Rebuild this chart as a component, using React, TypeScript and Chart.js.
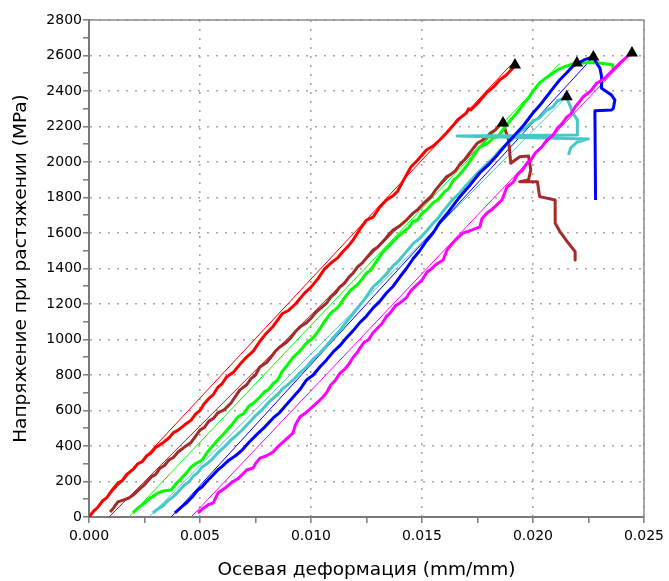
import React, { useEffect, useRef } from "react";
import { Chart, registerables } from "chart.js";

Chart.register(...registerables);

type P = [number, number];

// Axis definitions
const X_MIN = 0;
const X_MAX = 0.025;
const X_STEP = 0.0025;
const X_LABELS = ["0.000", "0.005", "0.010", "0.015", "0.020", "0.025"];
const Y_MIN = 0;
const Y_MAX = 2800;
const Y_STEP = 100;
const Y_LABELS = ["0", "200", "400", "600", "800", "1000", "1200", "1400", "1600", "1800", "2000", "2200", "2400", "2600", "2800"];

const X_TITLE = "Осевая деформация (mm/mm)";
const Y_TITLE = "Напряжение при растяжении (MPa)";

// Specimen curves: [strain, stress]
const RED: P[] = [
  [0, 0], [0.0002, 32], [0.0004, 55], [0.0006, 90], [0.0008, 108], [0.001, 145], [0.0013, 191],
  [0.0015, 205], [0.0017, 240], [0.002, 270], [0.0022, 300], [0.0024, 312], [0.0026, 345], [0.0028, 361],
  [0.003, 392], [0.0033, 415], [0.0036, 445], [0.0038, 475], [0.004, 488], [0.0043, 518], [0.0046, 546],
  [0.0048, 580], [0.005, 600], [0.0052, 640], [0.0054, 668], [0.0056, 690], [0.0058, 730], [0.006, 752],
  [0.0062, 789], [0.0065, 815], [0.0068, 860], [0.0071, 901], [0.0074, 935], [0.0077, 990], [0.008, 1037],
  [0.0083, 1075], [0.0087, 1145], [0.009, 1165], [0.0093, 1200], [0.0097, 1260], [0.01, 1295],
  [0.0103, 1340], [0.0106, 1395], [0.0109, 1431], [0.0112, 1460], [0.0114, 1490], [0.0117, 1530],
  [0.0119, 1561], [0.0122, 1620], [0.0125, 1673], [0.0128, 1690], [0.0131, 1745], [0.0134, 1786],
  [0.0137, 1810], [0.0139, 1835], [0.0142, 1905], [0.0145, 1972], [0.0148, 2010], [0.0152, 2068],
  [0.0155, 2090], [0.0158, 2124], [0.0161, 2163], [0.0164, 2205], [0.0166, 2237], [0.017, 2276],
  [0.0171, 2300], [0.0172, 2293], [0.0175, 2330], [0.0179, 2389], [0.0182, 2420], [0.0185, 2462],
  [0.0188, 2490], [0.0191, 2530], [0.0192, 2545],
];

const BROWN: P[] = [
  [0.00095, 28], [0.0011, 50], [0.0013, 85], [0.0016, 98], [0.0018, 107], [0.002, 125], [0.0023, 160],
  [0.0025, 182], [0.0028, 225], [0.003, 240], [0.0032, 275], [0.0034, 290], [0.0036, 321], [0.0038, 335],
  [0.004, 365], [0.0043, 394], [0.0046, 420], [0.005, 490], [0.0052, 505], [0.0054, 540], [0.0056, 555],
  [0.0058, 586], [0.0061, 605], [0.0064, 642], [0.0066, 680], [0.0068, 716], [0.0071, 745], [0.0073, 780],
  [0.0075, 800], [0.0077, 845], [0.008, 870], [0.0082, 900], [0.0084, 935], [0.0086, 958], [0.0089, 985],
  [0.0091, 1010], [0.0093, 1045], [0.0095, 1070], [0.0098, 1095], [0.01, 1120], [0.0102, 1150],
  [0.0104, 1172], [0.0107, 1205], [0.0109, 1240], [0.0111, 1262], [0.0113, 1296], [0.0115, 1315],
  [0.0117, 1350], [0.0119, 1375], [0.0121, 1409], [0.0123, 1430], [0.0125, 1460], [0.0128, 1504],
  [0.013, 1520], [0.0133, 1560], [0.0135, 1590], [0.0137, 1617], [0.014, 1640], [0.0143, 1673],
  [0.0146, 1712], [0.0148, 1730], [0.0151, 1770], [0.0154, 1803], [0.0156, 1840], [0.0158, 1870],
  [0.0161, 1916], [0.0163, 1930], [0.0165, 1950], [0.0167, 1985], [0.0169, 2011], [0.0172, 2060],
  [0.0175, 2107], [0.0177, 2120], [0.0179, 2141], [0.0181, 2165], [0.0183, 2180], [0.0185, 2209],
  [0.01865, 2220], [0.0189, 2124], [0.019, 1993], [0.0194, 2030], [0.0198, 2034], [0.0199, 1955],
  [0.0198, 1899], [0.0194, 1889], [0.0202, 1889], [0.0203, 1805], [0.021, 1786], [0.021, 1655],
  [0.0212, 1611], [0.0216, 1542], [0.0219, 1495], [0.0219, 1448],
];

const GREEN: P[] = [
  [0.00198, 23], [0.0022, 50], [0.0025, 79], [0.0028, 110], [0.0031, 135], [0.0034, 148], [0.0037, 152],
  [0.0039, 185], [0.0041, 210], [0.0044, 250], [0.0046, 282], [0.0048, 300], [0.0051, 321], [0.0053, 360],
  [0.0055, 390], [0.0058, 434], [0.0061, 473], [0.0064, 515], [0.0067, 563], [0.007, 586], [0.0072, 625],
  [0.0074, 640], [0.0077, 676], [0.0079, 705], [0.0081, 720], [0.0083, 752], [0.0085, 772], [0.0087, 820],
  [0.0089, 850], [0.0092, 901], [0.0095, 935], [0.0098, 980], [0.0101, 1010], [0.0104, 1060],
  [0.0106, 1100], [0.0109, 1150], [0.0112, 1180], [0.0114, 1215], [0.0116, 1250], [0.0118, 1279],
  [0.0121, 1310], [0.0123, 1340], [0.0125, 1375], [0.0127, 1392], [0.013, 1450], [0.0132, 1487],
  [0.0135, 1525], [0.0139, 1578], [0.0141, 1600], [0.0144, 1630], [0.0146, 1665], [0.0148, 1673],
  [0.015, 1712], [0.0152, 1730], [0.0155, 1770], [0.0157, 1786], [0.016, 1830], [0.0162, 1850],
  [0.0164, 1895], [0.0166, 1916], [0.0169, 1960], [0.0172, 2011], [0.0174, 2050], [0.0176, 2084],
  [0.0178, 2095], [0.018, 2110], [0.0182, 2135], [0.0184, 2141], [0.0187, 2190], [0.019, 2237],
  [0.0193, 2280], [0.0196, 2332], [0.0198, 2360], [0.02, 2400], [0.0203, 2445], [0.0206, 2475],
  [0.0209, 2501], [0.0212, 2525], [0.0215, 2540], [0.0218, 2552], [0.0222, 2558], [0.0228, 2560],
  [0.0236, 2548], [0.0236, 2530],
];

const CYAN: P[] = [
  [0.00288, 23], [0.0031, 45], [0.0033, 60], [0.0036, 96], [0.0038, 115], [0.004, 140], [0.0043, 180],
  [0.0045, 198], [0.0047, 230], [0.0049, 250], [0.0051, 282], [0.0053, 298], [0.0055, 320], [0.0058, 361],
  [0.0061, 395], [0.0064, 434], [0.0066, 455], [0.0069, 490], [0.0072, 530], [0.0075, 570], [0.0078, 605],
  [0.0082, 659], [0.0085, 690], [0.0087, 720], [0.009, 750], [0.0092, 772], [0.0095, 812], [0.0098, 845],
  [0.0101, 890], [0.0104, 924], [0.0107, 965], [0.011, 1010], [0.0113, 1050], [0.0116, 1100],
  [0.0118, 1130], [0.0121, 1178], [0.0124, 1225], [0.0128, 1296], [0.0131, 1330], [0.0134, 1370],
  [0.0137, 1415], [0.0139, 1437], [0.0143, 1495], [0.0146, 1540], [0.0149, 1570], [0.0152, 1610],
  [0.0155, 1655], [0.0157, 1680], [0.016, 1730], [0.0164, 1790], [0.0167, 1825], [0.017, 1870],
  [0.0173, 1910], [0.0175, 1938], [0.0179, 1985], [0.0182, 2020], [0.0185, 2065], [0.0188, 2100],
  [0.0191, 2130], [0.0194, 2170], [0.0197, 2195], [0.02, 2230], [0.0203, 2250], [0.0206, 2290],
  [0.0209, 2310], [0.0211, 2345], [0.0212, 2349], [0.0215, 2368], [0.0218, 2276], [0.022, 2237],
  [0.022, 2152], [0.01658, 2147], [0.0195, 2138], [0.0225, 2130], [0.022, 2113], [0.0217, 2079],
  [0.0216, 2040],
];

const BLUE: P[] = [
  [0.00387, 23], [0.0042, 60], [0.0044, 80], [0.0047, 120], [0.0049, 152], [0.0051, 170], [0.0053, 200],
  [0.0056, 238], [0.0058, 265], [0.006, 285], [0.0063, 320], [0.0066, 345], [0.0069, 377], [0.0072, 420],
  [0.0076, 470], [0.0079, 505], [0.0083, 558], [0.0086, 590], [0.0088, 620], [0.009, 648], [0.0092, 676],
  [0.0095, 718], [0.0098, 772], [0.0101, 800], [0.0104, 845], [0.0107, 885], [0.011, 930], [0.0113, 965],
  [0.0116, 1010], [0.0119, 1050], [0.0122, 1095], [0.0125, 1132], [0.0128, 1178], [0.0131, 1215],
  [0.0134, 1262], [0.0137, 1300], [0.014, 1352], [0.0143, 1400], [0.0146, 1455], [0.0149, 1500],
  [0.0152, 1555], [0.0155, 1600], [0.0158, 1660], [0.0162, 1720], [0.0167, 1803], [0.0171, 1860],
  [0.0176, 1938], [0.018, 1985], [0.0184, 2040], [0.0188, 2100], [0.0191, 2141], [0.0196, 2210],
  [0.02, 2276], [0.0203, 2318], [0.0206, 2366], [0.0209, 2415], [0.0212, 2462], [0.0215, 2500],
  [0.0218, 2540], [0.0223, 2575], [0.02272, 2593], [0.02287, 2556], [0.02302, 2528], [0.02309, 2481],
  [0.02309, 2415], [0.02332, 2396], [0.02354, 2377], [0.02369, 2349], [0.02362, 2302], [0.02354, 2293],
  [0.02279, 2289], [0.02282, 1786],
];

const MAGENTA: P[] = [
  [0.00491, 23], [0.0051, 45], [0.00536, 68], [0.0056, 80], [0.00581, 135], [0.0061, 160], [0.00644, 197],
  [0.0067, 215], [0.00689, 237], [0.0071, 265], [0.00739, 276], [0.0075, 300], [0.0077, 332], [0.008, 345],
  [0.00829, 366], [0.0085, 395], [0.0086, 406], [0.0089, 440], [0.00919, 473], [0.0093, 520], [0.0095, 563],
  [0.0098, 590], [0.0101, 625], [0.0104, 659], [0.01054, 676], [0.0107, 700], [0.0109, 745], [0.0111, 770],
  [0.01131, 811], [0.0115, 830], [0.0117, 860], [0.0119, 900], [0.01207, 924], [0.0122, 950],
  [0.0124, 985], [0.0126, 1000], [0.01279, 1037], [0.013, 1065], [0.0132, 1090], [0.0134, 1130],
  [0.01356, 1149], [0.0138, 1190], [0.014, 1205], [0.01432, 1239], [0.0145, 1275], [0.0147, 1300],
  [0.015, 1335], [0.01523, 1380], [0.0154, 1395], [0.0156, 1420], [0.01595, 1448], [0.01613, 1504],
  [0.0163, 1530], [0.0165, 1560], [0.01685, 1600], [0.0172, 1615], [0.01761, 1634], [0.0177, 1680],
  [0.01793, 1713], [0.0181, 1728], [0.0183, 1750], [0.0186, 1786], [0.01883, 1859], [0.0191, 1885],
  [0.0193, 1930], [0.0195, 1950], [0.01973, 1994], [0.0199, 2010], [0.0201, 2050], [0.0204, 2085],
  [0.02063, 2124], [0.0209, 2150], [0.0211, 2190], [0.0213, 2215], [0.02153, 2254], [0.0217, 2270],
  [0.0219, 2310], [0.0221, 2340], [0.02225, 2366], [0.0226, 2400], [0.02288, 2445], [0.0231, 2460],
  [0.0233, 2480], [0.0236, 2518], [0.0239, 2555], [0.02423, 2592], [0.0244, 2610],
];

// Thin modulus lines
const RED_FIT: P[] = [[0, 0], [0.019, 2547]];
const BROWN_FIT: P[] = [[0.0009, 0], [0.0186, 2215]];
const GREEN_FIT: P[] = [[0.0018, 0], [0.0212, 2555]];
const CYAN_FIT: P[] = [[0.0027, 0], [0.0215, 2365]];
const BLUE_FIT: P[] = [[0.0037, 0], [0.0227, 2590]];
const MAGENTA_FIT: P[] = [[0.0046, 0], [0.0244, 2610]];

// Peak markers
const PEAKS: P[] = [
  [0.01919, 2547], [0.01865, 2220], [0.02198, 2558], [0.02152, 2368], [0.02272, 2592], [0.02446, 2614],
];

const COLORS = {
  red: "#ff0000",
  brown: "#a52a2a",
  green: "#00ff00",
  cyan: "#45c8c8",
  blue: "#0000ff",
  magenta: "#ff00ff",
};

const toXY = (arr: P[]) => arr.map(([x, y]) => ({ x, y }));

const FONT = "'DejaVu Sans', Verdana, sans-serif";

const framePlugin = {
  id: "frame",
  afterDraw(chart: any) {
    const { ctx, chartArea: a } = chart;
    ctx.save();
    ctx.strokeStyle = "#8c8c8c";
    ctx.lineWidth = 1.5;
    ctx.beginPath();
    ctx.moveTo(a.left, a.top);
    ctx.lineTo(a.right, a.top);
    ctx.lineTo(a.right, a.bottom);
    ctx.stroke();
    ctx.restore();
  },
};

export default function App() {
  const ref = useRef<HTMLCanvasElement | null>(null);

  useEffect(() => {
    document.body.style.margin = "0";
    const canvas = ref.current;
    if (!canvas) return;

    const thick = (data: P[], color: string, order: number) => ({
      data: toXY(data),
      borderColor: color,
      backgroundColor: color,
      borderWidth: 3,
      borderJoinStyle: "round",
      pointRadius: 0,
      showLine: true,
      tension: 0,
      order,
    });
    const thin = (data: P[], color: string, order: number) => ({
      data: toXY(data),
      borderColor: color,
      backgroundColor: color,
      borderWidth: 1,
      pointRadius: 0,
      showLine: true,
      tension: 0,
      order,
    });

    const gridColor = (c: any) => (c.index % 2 === 0 ? "#aaa596" : "rgba(0,0,0,0)");

    const chart = new Chart(canvas, {
      type: "scatter",
      data: {
        datasets: [
          {
            data: toXY(PEAKS),
            pointStyle: "triangle",
            pointRadius: 7,
            pointBackgroundColor: "#000",
            pointBorderColor: "#000",
            pointBorderWidth: 0,
            showLine: false,
            order: 0,
          } as any,
          thick(MAGENTA, COLORS.magenta, 1),
          thick(BLUE, COLORS.blue, 2),
          thick(CYAN, COLORS.cyan, 3),
          thick(GREEN, COLORS.green, 4),
          thick(BROWN, COLORS.brown, 5),
          thick(RED, COLORS.red, 6),
          thin(MAGENTA_FIT, COLORS.magenta, 7),
          thin(BLUE_FIT, COLORS.blue, 8),
          thin(CYAN_FIT, COLORS.cyan, 9),
          thin(GREEN_FIT, COLORS.green, 10),
          thin(BROWN_FIT, COLORS.brown, 11),
          thin(RED_FIT, COLORS.red, 12),
        ],
      },
      options: {
        responsive: false,
        animation: false,
        devicePixelRatio: 1,
        layout: { padding: { top: 20, right: 25, left: 0, bottom: 0 } },
        plugins: { legend: { display: false }, tooltip: { enabled: false } },
        scales: {
          x: {
            type: "linear",
            position: "bottom",
            min: X_MIN,
            max: X_MAX,
            afterFit: (s: any) => {
              s.height = 64;
            },
            ticks: {
              stepSize: X_STEP,
              autoSkip: false,
              maxRotation: 0,
              padding: 5,
              color: "#000",
              font: { family: FONT, size: 14 },
              callback: (_v: any, i: number) => (i % 2 === 0 ? X_LABELS[i / 2] : ""),
            },
            grid: {
              color: gridColor,
              lineWidth: 1.6,
              tickColor: "#7a7a7a",
              tickLength: 6,
              tickWidth: 1.5,
            },
            border: { color: "#7a7a7a", width: 2, dash: [2, 7] },
            title: {
              display: true,
              text: X_TITLE,
              color: "#000",
              font: { family: FONT, size: 18.5 },
              padding: { top: 0, bottom: 0 },
            },
          },
          y: {
            type: "linear",
            position: "left",
            min: Y_MIN,
            max: Y_MAX,
            afterFit: (s: any) => {
              s.width = 89;
            },
            ticks: {
              stepSize: Y_STEP,
              autoSkip: false,
              padding: 1,
              color: "#000",
              font: { family: FONT, size: 14 },
              callback: (_v: any, i: number) => (i % 2 === 0 ? Y_LABELS[i / 2] : ""),
            },
            grid: {
              color: gridColor,
              lineWidth: 1.6,
              tickColor: "#7a7a7a",
              tickLength: 6,
              tickWidth: 1.5,
            },
            border: { color: "#7a7a7a", width: 2, dash: [2, 7] },
            title: {
              display: true,
              text: Y_TITLE,
              color: "#000",
              font: { family: FONT, size: 18.5 },
              padding: { top: 10, bottom: 0 },
            },
          },
        },
      },
      plugins: [framePlugin],
    } as any);

    return () => chart.destroy();
  }, []);

  return <canvas ref={ref} width={669} height={581} style={{ display: "block" }} />;
}
